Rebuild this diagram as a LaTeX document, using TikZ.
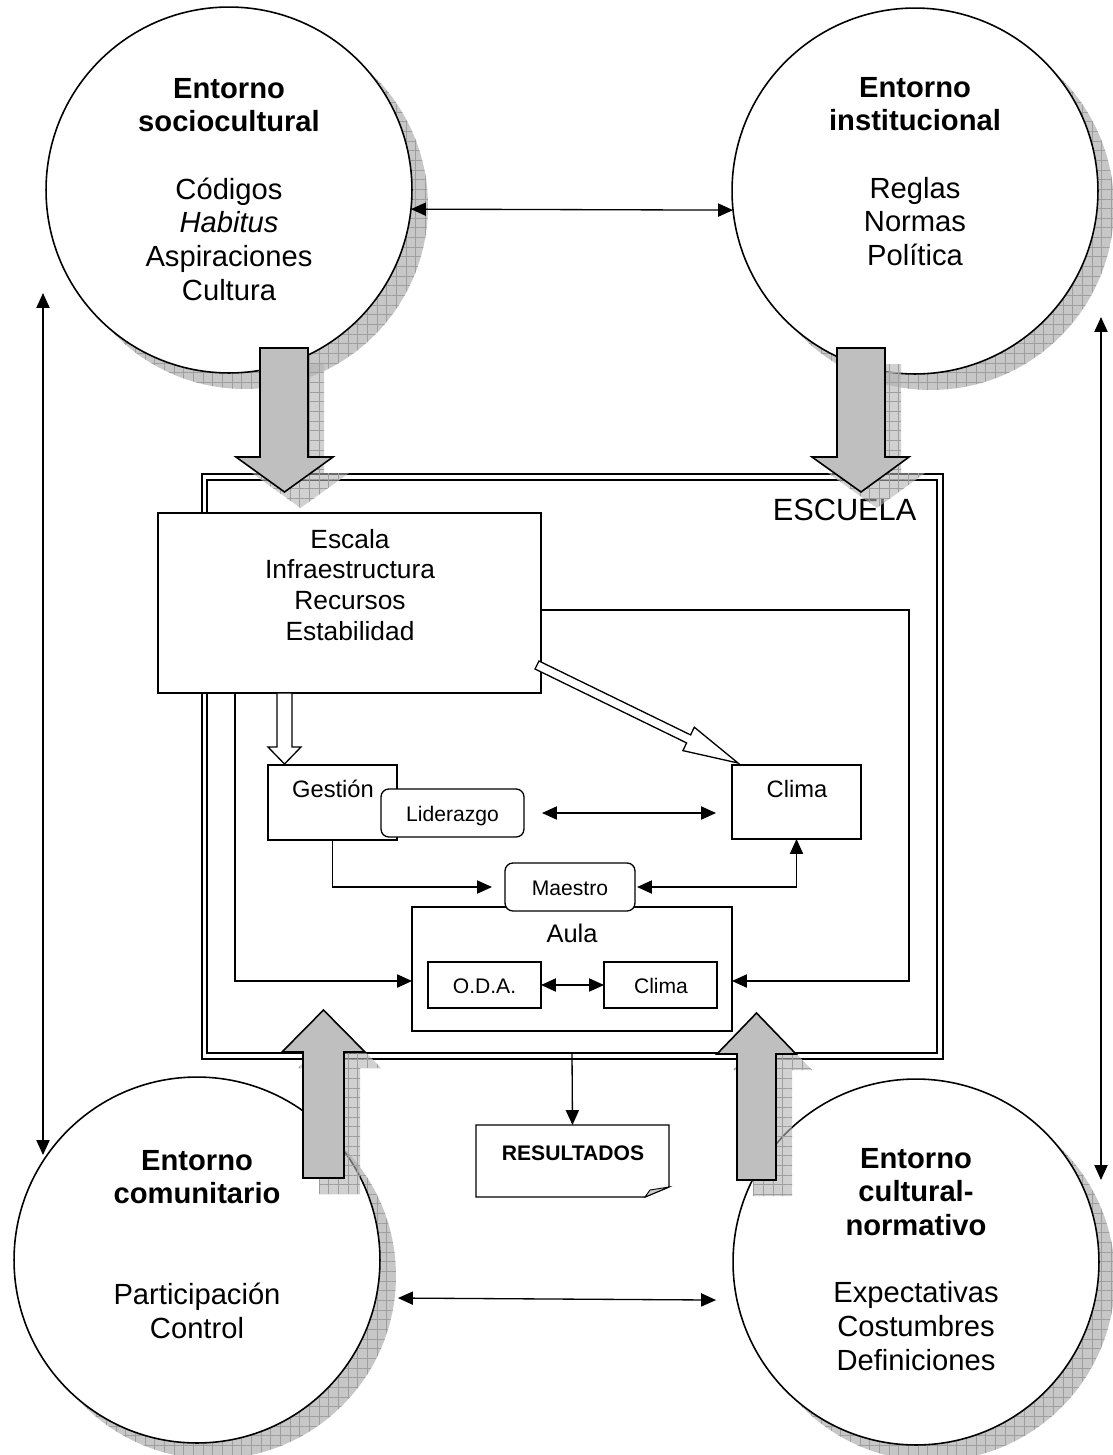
\documentclass[tikz,border=0pt]{standalone}
\usepackage{fontspec}
\setmainfont{Liberation Sans}
\usetikzlibrary{arrows.meta,patterns.meta,calc}
\newcommand{\mlines}[1]{\begin{tabular}[t]{@{}c@{}}#1\end{tabular}}
\newcommand{\arrTL}{(260,348)--(308,348)--(308,457)--(333,457)--(284.5,492)--(236,457)--(260,457)--cycle}
\newcommand{\arrTR}{(837,348)--(885,348)--(885,457)--(909,457)--(861,492)--(812,457)--(837,457)--cycle}
\newcommand{\arrBL}{(303,1178)--(344,1178)--(344,1052)--(365,1052)--(323.5,1010)--(282,1052)--(303,1052)--cycle}
\newcommand{\arrBR}{(737,1180)--(776,1180)--(776,1054)--(796,1054)--(756.5,1013)--(717,1054)--(737,1054)--cycle}
\begin{document}
\begin{tikzpicture}[x=0.02cm,y=-0.02cm,
  >={Triangle[length=8.5pt,width=7.5pt]},
  line width=0.75pt,
  ring/.style={circle,draw,fill=white,minimum size=7.32cm,inner sep=0pt,outer sep=0pt,line width=0.9pt},
  ringsh/.style={circle,minimum size=7.32cm,inner sep=0pt,outer sep=0pt,
     preaction={fill=black!22},pattern={Hatch[angle=0,distance=5.5pt,line width=0.3pt]},pattern color=black!38},
  arrsh/.style={preaction={fill=black!30,fill opacity=0.6},pattern={Hatch[angle=0,distance=5.5pt,line width=0.3pt]},pattern color=black!38},
  grey/.style={draw,fill=black!25,line width=0.9pt},
  box/.style={draw,fill=white,line width=0.75pt,inner sep=0pt,outer sep=0pt},
  txt/.style={anchor=base,inner sep=0pt},
  circfont/.style={font=\fontsize{16.6}{19.2}\selectfont},
  small/.style={font=\fontsize{12}{14}\selectfont},
  mid/.style={font=\fontsize{13.5}{16}\selectfont}]
\useasboundingbox (0,0) rectangle (1113,1455);

% circle shadows
\node[ringsh] (tlsh) at (245,206) {};
\node[ringsh] (trsh) at (931,207) {};
\node[ringsh] (blsh) at (213,1276) {};
\node[ringsh] (brsh) at (932,1278) {};

% circles
\node[ring] (tl) at (229,190) {};
\node[ring] (tr) at (915,191) {};
\node[ring] (bl) at (197,1260) {};
\node[ring] (br) at (916,1262) {};

\node[txt,circfont] (tltxt) at (229,98) {\mlines{\textbf{Entorno}\\\textbf{sociocultural}\\ \\Códigos\\\textit{Habitus}\\Aspiraciones\\Cultura}};
\node[txt,circfont] (trtxt) at (915,97) {\mlines{\textbf{Entorno}\\\textbf{institucional}\\ \\Reglas\\Normas\\Política}};
\node[txt,circfont] (bltxt) at (197,1170) {\mlines{\textbf{Entorno}\\\textbf{comunitario}\\ \\ \\Participación\\Control}};
\node[txt,circfont] (brtxt) at (916,1168) {\mlines{\textbf{Entorno}\\\textbf{cultural-}\\\textbf{normativo}\\ \\Expectativas\\Costumbres\\Definiciones}};

% outer connectors
\draw[<->] (tl.-6.3) -- (tr.186);
\draw[<->] ([xshift=0.44cm]bl.-12.6) -- ([xshift=-0.42cm]br.192);
\coordinate (la) at (43,293);
\coordinate (lb) at (43,1155);
\draw[<->] (la) -- (lb);
\coordinate (ra) at (1101,317);
\coordinate (rb) at (1101,1180);
\draw[<->] (ra) -- (rb);

% escuela
\node[draw,line width=1.3pt,inner sep=0pt,outer sep=0pt,minimum width=14.82cm,minimum height=11.7cm] (escuela) at (572.5,766.5) {};
\node[draw,line width=0.75pt,inner sep=0pt,outer sep=0pt,minimum width=14.6cm,minimum height=11.46cm] (escin) at (572,766.5) {};
\node[anchor=base east,inner sep=0pt,font=\fontsize{17.5}{20}\selectfont] (esclbl) at (917,520) {ESCUELA};

% escala box
\node[box,minimum width=7.66cm,minimum height=3.6cm] (esc) at (349.5,603) {};
\node[txt,font=\fontsize{15}{17.5}\selectfont] (esctxt) at (350,548) {\mlines{Escala\\Infraestructura\\Recursos\\Estabilidad}};

% connectors from escala
\coordinate (c1) at (909,610);
\coordinate (c2) at (235,981);

% inner boxes
\node[box,minimum width=2.58cm,minimum height=1.5cm] (gest) at (332.5,802.5) {};
\node[txt,mid] (gesttxt) at (333,797) {Gestión};
\node[box,rounded corners=4.5pt,minimum width=2.86cm,minimum height=0.96cm] (lid) at (452.5,813) {};
\node[txt,small] (lidtxt) at (452.5,821) {Liderazgo};
\node[box,minimum width=2.58cm,minimum height=1.48cm] (clima1) at (796.5,802) {};
\node[txt,mid] (clima1txt) at (797,797) {Clima};
\node[box,minimum width=6.4cm,minimum height=2.48cm] (aula) at (572,969) {};
\node[txt,font=\fontsize{14.5}{17}\selectfont] (aulatxt) at (572,942) {Aula};
\node[box,rounded corners=4.5pt,minimum width=2.6cm,minimum height=0.96cm] (maes) at (570,887) {};
\node[txt,small] (maestxt) at (570,895) {Maestro};
\node[box,minimum width=2.26cm,minimum height=0.92cm] (oda) at (484.5,985) {};
\node[txt,small] (odatxt) at (484.5,993) {O.D.A.};
\node[box,minimum width=2.26cm,minimum height=0.92cm] (clima2) at (660.5,985) {};
\node[txt,small] (clima2txt) at (661,993) {Clima};

\draw[->] (esc.east |- c1) -- (c1) |- (aula.east |- c2);
\draw[->] (esc.south -| c2) -- (c2) -- (aula.west |- c2);

% hollow arrows
\draw[fill=white] (277,693)--(292,693)--(292,747)--(301,747)--(284.5,764)--(268,747)--(277,747)--cycle;
\draw[fill=white] (539,661)--(690.6,734.9)--(694.3,727.2)--(738,763)--(682.9,750.6)--(686.6,742.9)--(535,669)--cycle;

\coordinate (lc) at ([xshift=-0.32cm]clima1.west);
\draw[<->] ([xshift=0.36cm]lid.east) -- (lc |- lid.east);
\draw[->] (gest.south) |- ([xshift=-0.26cm]maes.west);
\draw[<->] ([xshift=0.04cm]maes.east) -| (clima1.south);
\draw[<->] (oda.east) -- (clima2.west);

% resultados
\node[inner sep=0pt,outer sep=0pt,minimum width=3.86cm,minimum height=1.44cm] (res) at (572.5,1161) {};
\draw (res.north west) -- (res.north east) -- ([yshift=0.2cm]res.south east) -- ([xshift=-0.48cm]res.south east) -- (res.south west) -- cycle;
\draw[fill=black!20,line width=0.5pt] ([yshift=0.2cm]res.south east) -- ([xshift=-0.48cm]res.south east) -- ([xshift=-0.38cm,yshift=0.14cm]res.south east) -- cycle;
\node[txt,font=\bfseries\fontsize{12}{14}\selectfont] (restxt) at (573,1160) {RESULTADOS};
\draw[->] (escin.south) -- (res.north);

% grey block arrows with shadows
\path[arrsh,shift={(16,16)}] \arrTL;
\path[arrsh,shift={(16,16)}] \arrTR;
\path[arrsh,shift={(16,16)}] \arrBL;
\path[arrsh,shift={(16,16)}] \arrBR;
\path[grey] \arrTL;
\path[grey] \arrTR;
\path[grey] \arrBL;
\path[grey] \arrBR;
\end{tikzpicture}
\end{document}
